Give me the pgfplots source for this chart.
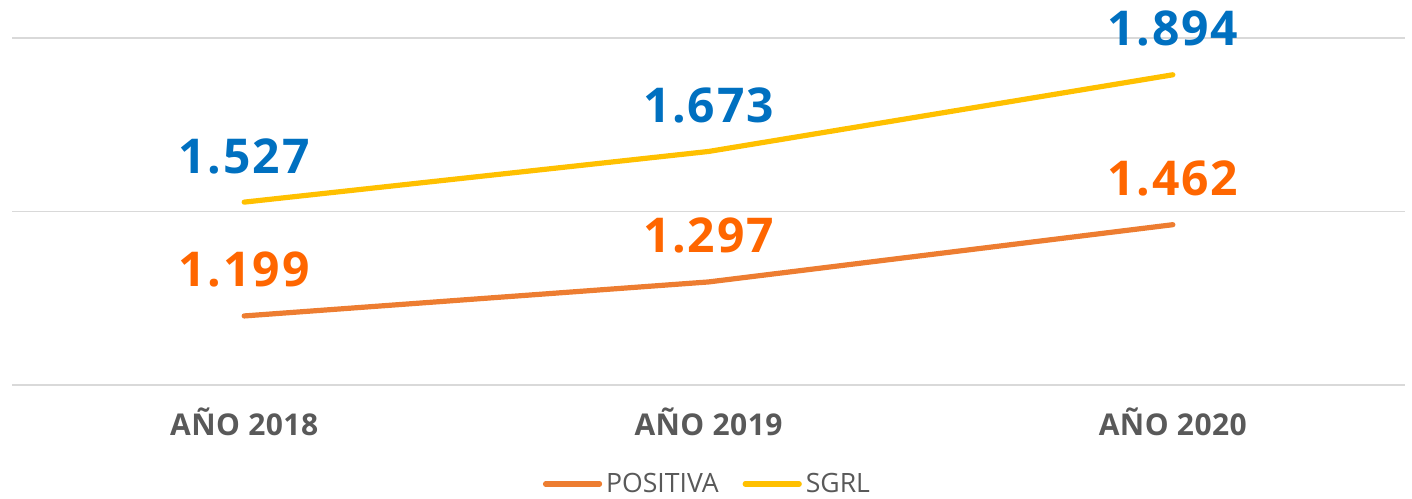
\documentclass[border=0pt]{standalone}
\usepackage{pgfplots}
\pgfplotsset{compat=1.18}
\usepackage{fontspec}
\setmainfont{Open Sans}
\definecolor{lorange}{HTML}{ED7D31}
\definecolor{lyellow}{HTML}{FFC000}
\definecolor{tblue}{HTML}{0070C0}
\definecolor{torange}{HTML}{FF6600}
\definecolor{tgray}{HTML}{595959}
\definecolor{ggray}{HTML}{D9D9D9}
\begin{document}
\begin{tikzpicture}
\begin{axis}[
  at={(0,0)}, anchor=south west,
  scale only axis,
  width=696.5pt, height=173.5pt,
  xmin=-0.5, xmax=2.5,
  ymin=1, ymax=2,
  xtick={0,1,2},
  xticklabels={AÑO 2018, AÑO 2019, AÑO 2020},
  xticklabel style={anchor=base, yshift=-25pt, font=\fontsize{15}{17}\selectfont\bfseries\addfontfeatures{LetterSpace=1.5}, text=tgray},
  ytick={1,1.5,2},
  yticklabels={},
  ymajorgrids,
  grid style={ggray, line width=0.8pt},
  major tick length=0pt,
  axis line style={draw=none},
  clip=false,
  point meta=explicit symbolic,
  nodes near coords,
  nodes near coords style={anchor=base, yshift=14.5pt, font=\fontsize{24}{26}\selectfont\bfseries\addfontfeatures{LetterSpace=4}},
  legend columns=2,
  legend style={draw=none, fill=none, at={(0.5,-0.285)}, anchor=center,
    font=\fontsize{13.3}{15}\selectfont, text=tgray,
    /tikz/every even column/.append style={column sep=10pt},
    inner sep=0pt, cells={anchor=west, inner xsep=1.2pt}},
  legend image code/.code={\draw[#1, line cap=round] (0pt,0pt) -- (27pt,0pt);},
]
\addplot[lorange, line width=2.6pt, line cap=round, nodes near coords style={text=torange}]
  coordinates {(0,1.199) [1.199] (1,1.297) [1.297] (2,1.462) [1.462]};
\addlegendentry{POSITIVA}
\addplot[lyellow, line width=2.6pt, line cap=round, nodes near coords style={text=tblue}]
  coordinates {(0,1.527) [1.527] (1,1.673) [1.673] (2,1.894) [1.894]};
\addlegendentry{SGRL}
\end{axis}
\pgfresetboundingbox
\path[use as bounding box] (-6pt,-56.5pt) rectangle (700pt,192.5pt);
\end{tikzpicture}
\end{document}
